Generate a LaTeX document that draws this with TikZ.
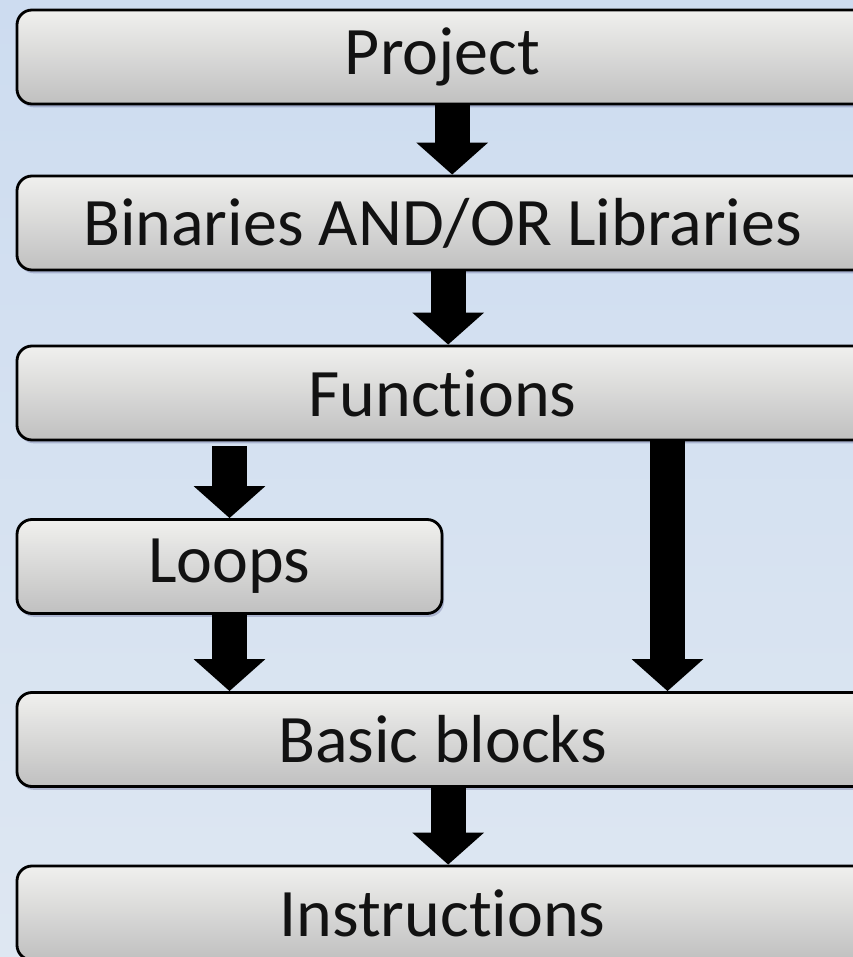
\documentclass[tikz,border=0pt]{standalone}
\usepackage{fontspec}
\setmainfont[Ligatures=NoCommon]{Carlito}
\usetikzlibrary{arrows.meta,shadows}
\definecolor{bgtop}{RGB}{205,220,240}
\definecolor{bgbottom}{RGB}{222,231,242}
\definecolor{boxtop}{RGB}{240,240,238}
\definecolor{boxbottom}{RGB}{192,192,192}
\tikzset{
  levelbox/.style={draw=black, line width=2.4pt, rounded corners=0.45cm,
    top color=boxtop, bottom color=boxbottom, inner sep=0pt,
    minimum width=25.53cm, minimum height=2.82cm,
    drop shadow={shadow xshift=0.06cm, shadow yshift=-0.1cm, opacity=0.2, fill=black!70!blue},
    font=\fontsize{58}{60}\selectfont, text=black!93},
  smallbox/.style={levelbox, minimum width=12.75cm},
  bigarrow/.style={line width=1.05cm, -{Triangle[width=2.1cm, length=0.96cm]}}
}
\begin{document}
\begin{tikzpicture}[x=0.03cm, y=-0.03cm]
			%%%%% START %%%%%
			
			\useasboundingbox (0, 0) rectangle (853, 957);
			\clip (0, 0) rectangle (853, 957);
			\shade[top color=bgtop, bottom color=bgbottom] (0, 0) rectangle (853, 957);
			
			\node[levelbox] (project) at (442.5, 57) {Project};
			\node[levelbox] (bins) at (442.5, 223) {Binaries AND/OR Libraries};
			\node[levelbox] (funcs) at (442.5, 393) {Functions};
			\node[smallbox] (loops) at (229.5, 566.5) {Loops};
			\node[levelbox] (blocks) at (442.5, 739.5) {Basic blocks};
			\node[levelbox] (instr) at (442.5, 913) {Instructions};
			
			\draw[bigarrow] ([xshift=0.29cm]project.south) -- ([xshift=0.29cm]bins.north);
			\draw[bigarrow] ([xshift=0.17cm]bins.south) -- ([xshift=0.17cm]funcs.north);
			\draw[bigarrow] ([yshift=-0.15cm]funcs.south -| loops) -- (loops.north);
			\draw[bigarrow] (loops.south) -- (blocks.north -| loops);
			\draw[bigarrow] ([xshift=6.75cm]funcs.south) -- ([xshift=6.75cm]blocks.north);
			\draw[bigarrow] ([xshift=0.17cm]blocks.south) -- ([xshift=0.17cm]instr.north);
			
			%%%%% END %%%%%
		\end{tikzpicture}
\end{document}
